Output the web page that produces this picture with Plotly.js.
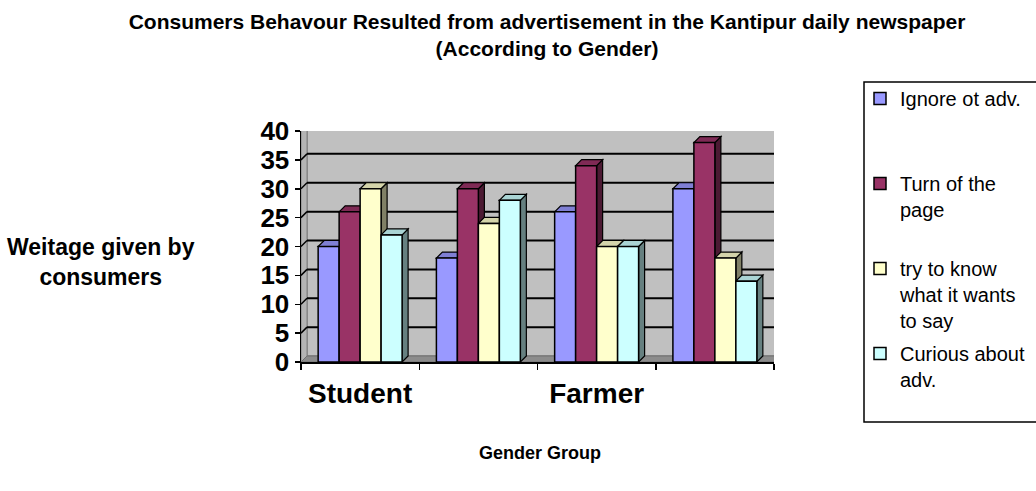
<!DOCTYPE html>
<html>
<head>
<meta charset="utf-8">
<script src="https://cdn.plot.ly/plotly-3.0.1.min.js"></script>
<style>
  html, body { margin: 0; padding: 0; background: #ffffff; }
  #chart { width: 1036px; height: 491px; }
</style>
</head>
<body>
<div id="chart"></div>
<script>
// ---- Data ----
const categories = ["Student", "", "Farmer", ""];   // 2nd and 4th labels are not shown in the source
const seriesNames = ["Ignore ot adv.", "Turn of the<br>page", "try to know<br>what it wants<br>to say", "Curious about<br>adv."];
const ignoreAdv  = [20, 18, 26, 30];
const turnPage   = [26, 30, 34, 38];
const tryToKnow  = [30, 24, 20, 18];
const curiousAdv = [22, 28, 20, 14];
const yTickVals  = [0, 5, 10, 15, 20, 25, 30, 35, 40];
const chartTitle = "Consumers Behavour Resulted from advertisement in the Kantipur daily newspaper<br>(According to Gender)";
const yTitle = "Weitage given by<br>consumers";
const xTitle = "Gender Group";

// ---- Styling ----
const FONT = "Arial, 'Liberation Sans', sans-serif";
const frontColors = ["#9999FF", "#993366", "#FFFFCC", "#CCFFFF"];
const topColors   = ["#7F7FD4", "#7F2A55", "#D4D4AA", "#AAD4D4"];
const sideColors  = ["#4C4C80", "#4C1A33", "#808066", "#668080"];
const W = 1036, H = 491;
const M = { l: 301, r: 262, t: 131, b: 129 };
const plotW = W - M.l - M.r, plotH = H - M.t - M.b;
const yMax = 40;
const bargap = 0.29;
const depthPx = 6;
const dx = depthPx / (plotW / categories.length);
const dy = depthPx / (plotH / yMax);

const series = [ignoreAdv, turnPage, tryToKnow, curiousAdv];
const xIdx = categories.map((_, i) => i);
const nS = series.length;
const bw = (1 - bargap) / nS;

const traces = series.map((vals, j) => ({
  type: "bar",
  name: seriesNames[j] + "<br>\u00a0".repeat(3 - seriesNames[j].split("<br>").length),
  x: xIdx,
  y: vals,
  legendgroup: "g" + j,
  marker: { color: frontColors[j], line: { color: "#000000", width: 1.5 } },
  hoverinfo: "skip"
}));

const px2paperX = px => (px - M.l) / plotW;
const px2paperY = py => (H - M.b - py) / plotH;

// ---- 3D decoration (walls, floor, bar tops and sides) ----
const shapes = [];
const xL = -0.5, xR = categories.length - 0.5;
function poly(pts, fill, lineColor, lw) {
  const d = "M" + pts.map(p => p[0] + "," + p[1]).join(" L") + " Z";
  return { type: "path", xref: "x", yref: "y", path: d, fillcolor: fill,
           line: { color: lineColor, width: lw }, layer: "below" };
}
// back wall
shapes.push(poly([[xL + dx, dy], [xR + dx, dy], [xR + dx, yMax + dy], [xL + dx, yMax + dy]], "#C0C0C0", "#808080", 1.5));
// left side wall
shapes.push(poly([[xL, 0], [xL, yMax], [xL + dx, yMax + dy], [xL + dx, dy]], "#B4B4B4", "#808080", 1));
// floor
shapes.push(poly([[xL, 0], [xR, 0], [xR + dx, dy], [xL + dx, dy]], "#8C8C8C", "#707070", 1));
// gridlines on the wall + diagonals on side wall
yTickVals.forEach(v => {
  if (v === 0 || v === yMax) return;
  shapes.push({ type: "line", xref: "x", yref: "y", x0: xL + dx, x1: xR + dx, y0: v + dy, y1: v + dy,
                line: { color: "#000000", width: 2 }, layer: "below" });
  shapes.push({ type: "line", xref: "x", yref: "y", x0: xL, x1: xL + dx, y0: v, y1: v + dy,
                line: { color: "#000000", width: 1.5 }, layer: "below" });
});
// bar tops and sides
xIdx.forEach(i => {
  series.forEach((vals, j) => {
    const v = vals[i];
    const c = i + (j - (nS - 1) / 2) * bw;
    const x0 = c - bw / 2, x1 = c + bw / 2;
    shapes.push(poly([[x1, 0], [x1, v], [x1 + dx, v + dy], [x1 + dx, dy]], sideColors[j], "#000000", 1.2));
    shapes.push(poly([[x0, v], [x1, v], [x1 + dx, v + dy], [x0 + dx, v + dy]], topColors[j], "#000000", 1.2));
  });
});
// legend frame (runs off the right edge as in the source)
shapes.push({ type: "rect", xref: "paper", yref: "paper",
  x0: px2paperX(864), x1: px2paperX(1050), y0: px2paperY(422), y1: px2paperY(82),
  line: { color: "#000000", width: 1.5 }, fillcolor: "rgba(0,0,0,0)", layer: "above" });

const layout = {
  width: W, height: H,
  margin: { l: M.l, r: M.r, t: M.t, b: M.b, pad: 0, autoexpand: false },
  paper_bgcolor: "#FFFFFF",
  plot_bgcolor: "rgba(0,0,0,0)",
  font: { family: FONT, color: "#000000" },
  barmode: "group",
  bargap: bargap,
  bargroupgap: 0,
  title: {
    text: chartTitle,
    font: { family: FONT, size: 21, weight: "bold", color: "#000000" },
    x: 547 / W, xanchor: "center", xref: "container",
    y: 1 - 29 / H, yanchor: "top", yref: "container"
  },
  xaxis: {
    range: [xL, xR],
    tickmode: "array", tickvals: xIdx, ticktext: categories,
    ticks: "", showgrid: false, zeroline: false,
    showline: true, linecolor: "#000000", linewidth: 1.5,
    tickfont: { family: FONT, size: 28, weight: "bold", color: "#000000" },
    ticklabelstandoff: 6,
    minor: { tickmode: "linear", tick0: -0.5, dtick: 1, ticks: "outside", ticklen: 6, tickwidth: 1.5, tickcolor: "#000000", showgrid: false },
    fixedrange: true
  },
  yaxis: {
    range: [0, yMax],
    tickmode: "array", tickvals: yTickVals,
    ticks: "outside", ticklen: 5, tickwidth: 1.5, tickcolor: "#000000",
    showgrid: false, zeroline: false,
    showline: true, linecolor: "#000000", linewidth: 1.5,
    tickfont: { family: FONT, size: 26, weight: "bold", color: "#000000" },
    fixedrange: true
  },
  legend: {
    x: px2paperX(860), xanchor: "left",
    y: px2paperY(79), yanchor: "top",
    bgcolor: "rgba(0,0,0,0)", borderwidth: 0,
    font: { family: FONT, size: 20, color: "#000000" },
    valign: "top", tracegroupgap: 4, traceorder: "grouped",
    maxheight: 400
  },
  shapes: shapes,
  annotations: [
    { text: yTitle, xref: "paper", yref: "paper", x: px2paperX(101), y: px2paperY(262),
      xanchor: "center", yanchor: "middle", showarrow: false, align: "center",
      font: { family: FONT, size: 23, weight: "bold", color: "#000000" } },
    { text: xTitle, xref: "paper", yref: "paper", x: px2paperX(540), y: px2paperY(453),
      xanchor: "center", yanchor: "middle", showarrow: false,
      font: { family: FONT, size: 18, weight: "bold", color: "#000000" } }
  ]
};

Plotly.newPlot("chart", traces, layout, { staticPlot: true, displayModeBar: false });
</script>
</body>
</html>
